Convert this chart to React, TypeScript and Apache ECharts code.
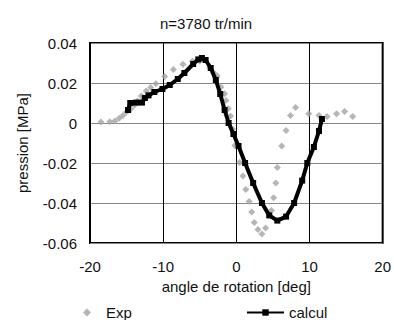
import React, { useEffect, useRef } from "react";
import * as echarts from "echarts";

const titleText = "n=3780 tr/min";
const xTicks = [-20, -10, 0, 10, 20];
const yTicks = [-0.06, -0.04, -0.02, 0, 0.02, 0.04];

const expAngle = [
  -18.5, -17.3, -16.6, -16.0, -15.5, -15.0, -14.4, -13.9, -13.5, -13.0, -12.3, -11.7, -11.0,
  -9.8, -8.6, -7.3, -6.0, -5.0, -3.6, -3.1, -2.6, -2.1, -1.6, -1.4, -1.1, -0.8, -0.5, -0.2,
  0.45, 0.9, 1.3, 1.75, 2.1, 2.45, 2.95, 3.5, 4.0, 4.8, 5.1, 5.4, 5.6, 6.2, 6.8, 7.4, 8.1,
  9.9, 11.3, 12.4, 13.7, 14.8, 15.9,
];
const expPressure = [
  0.0005, 0.0006, 0.001, 0.0024, 0.0038, 0.0055, 0.0071, 0.009, 0.011, 0.0135, 0.016, 0.0178, 0.0196,
  0.0232, 0.0268, 0.0294, 0.031, 0.031, 0.0278, 0.0252, 0.0235, 0.018, 0.0146, 0.0113, 0.0071, 0.0035, -0.003, -0.0113,
  -0.0198, -0.0265, -0.0332, -0.0392, -0.0445, -0.0497, -0.0532, -0.0555, -0.0525, -0.0438, -0.0374, -0.03, -0.0222, -0.0115, -0.0038, 0.0038, 0.0077,
  0.0046, 0.0037, 0.0033, 0.0046, 0.0058, 0.0033,
];

const calcAngle = [
  -14.8, -14.5, -13.7, -12.9, -12.5, -12.0, -11.2, -10.1, -9.1, -8.0, -7.1, -5.9, -5.2, -4.7,
  -4.2, -3.5, -2.8, -2.2, -1.6, -1.05, -0.4, 0.3, 1.2, 2.3, 3.5, 4.5, 5.6, 6.8, 7.9, 9.0,
  9.7, 10.6, 11.3, 11.7,
];
const calcPressure = [
  0.0065, 0.01, 0.0102, 0.0102, 0.0125, 0.0138, 0.0155, 0.017, 0.019, 0.022, 0.025, 0.0295, 0.0318, 0.0325,
  0.0315, 0.0275, 0.0215, 0.0145, 0.0065, 0.0, -0.0055, -0.0115, -0.02, -0.03, -0.04, -0.0462, -0.0488, -0.0468, -0.04, -0.0288,
  -0.02, -0.012, -0.004, 0.002,
];

const FONT = "'Liberation Sans', Arial, sans-serif";

export default function App() {
  const ref = useRef<HTMLDivElement>(null);
  useEffect(() => {
    if (!ref.current) return;
    const chart = echarts.init(ref.current, undefined, { renderer: "svg" });
    const expData = expAngle.map((a, i) => [a, expPressure[i]]);
    const calcData = calcAngle.map((a, i) => [a, calcPressure[i]]);
    chart.setOption({
      animation: false,
      backgroundColor: "#ffffff",
      textStyle: { fontFamily: FONT },
      title: {
        text: titleText,
        left: 155,
        top: 11,
        textStyle: { fontFamily: FONT, fontSize: 15, fontWeight: "normal", color: "#111" },
      },
      grid: {
        left: 90,
        right: 10,
        top: 43,
        bottom: 77,
        show: true,
        borderColor: "#000",
        borderWidth: 2,
        containLabel: false,
      },
      legend: [
        {
          data: ["Exp"],
          left: 83,
          top: 305,
          padding: 0,
          itemWidth: 8,
          itemHeight: 8,
          textStyle: { fontFamily: FONT, fontSize: 15, color: "#111", padding: [0, 0, 0, 10] },
        },
        {
          data: ["calcul"],
          left: 246,
          top: 305,
          padding: 0,
          itemWidth: 37,
          itemHeight: 8,
          textStyle: { fontFamily: FONT, fontSize: 15, color: "#111" },
        },
      ],
      xAxis: {
        type: "value",
        min: xTicks[0],
        max: xTicks[xTicks.length - 1],
        interval: 10,
        name: "angle de rotation [deg]",
        nameLocation: "middle",
        nameGap: 36,
        nameTextStyle: { fontFamily: FONT, fontSize: 15, color: "#111" },
        axisLine: { show: false },
        axisTick: { show: false },
        axisLabel: { fontFamily: FONT, fontSize: 15, color: "#111", margin: 16 },
        splitLine: { show: true, lineStyle: { color: "#000", width: 1 } },
      },
      yAxis: {
        type: "value",
        min: yTicks[0],
        max: yTicks[yTicks.length - 1],
        interval: 0.02,
        name: "pression [MPa]",
        nameLocation: "middle",
        nameGap: 60,
        nameTextStyle: { fontFamily: FONT, fontSize: 15, color: "#111" },
        axisLine: { show: false },
        axisTick: { show: false },
        axisLabel: {
          fontFamily: FONT,
          fontSize: 15,
          color: "#111",
          margin: 13,
          formatter: (v: number) => (Math.abs(v) < 1e-9 ? "0" : v.toFixed(2)),
        },
        splitLine: { show: true, lineStyle: { color: "#888", width: 1 } },
      },
      series: [
        {
          name: "Exp",
          type: "scatter",
          data: expData,
          symbol: "diamond",
          symbolSize: 7,
          itemStyle: { color: "#a3a3a3" },
          z: 2,
        },
        {
          name: "calcul",
          type: "line",
          data: calcData,
          symbol: "rect",
          symbolSize: 6,
          showAllSymbol: true,
          lineStyle: { color: "#000", width: 4 },
          itemStyle: { color: "#000" },
          z: 3,
        },
      ],
    });
    return () => chart.dispose();
  }, []);
  return (
    <div
      ref={ref}
      style={{ position: "fixed", left: 0, top: 0, width: 394, height: 320, background: "#fff" }}
    />
  );
}
